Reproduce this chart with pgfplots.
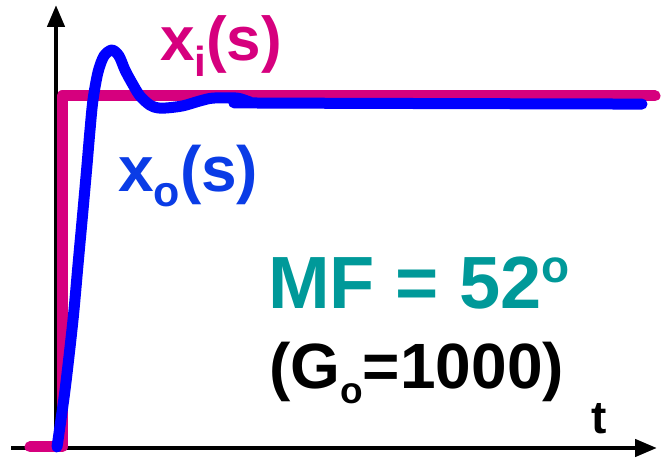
\documentclass[border=0pt]{standalone}
\usepackage{fontspec}
\setmainfont{Liberation Sans}
\usepackage{pgfplots}
\pgfplotsset{compat=1.18}
\usetikzlibrary{arrows.meta}

\definecolor{stepmag}{RGB}{214,0,126}
\definecolor{respblue}{RGB}{0,0,255}
\definecolor{labblue}{RGB}{10,60,230}
\definecolor{mfteal}{RGB}{0,153,153}

% step input x_i(t)
\pgfplotstableread{
t     y
-0.32 0
0.00  0
0.00  1
5.93  1
}\stepinput

% closed-loop response x_o(t)
\pgfplotstableread{
t     y
-0.05 0.000
0.03  0.162
0.11  0.362
0.16  0.519
0.21  0.675
0.25  0.803
0.28  0.903
0.31  0.989
0.36  1.068
0.42  1.114
0.50  1.131
0.57  1.114
0.63  1.074
0.70  1.037
0.78  1.000
0.88  0.974
0.96  0.966
1.05  0.966
1.21  0.972
1.38  0.986
1.51  0.994
1.75  0.994
1.88  0.983
1.98  0.980
5.80  0.977
}\response

\newcommand{\fs}[1]{\fontsize{#1}{#1}\selectfont}

\begin{document}
\begin{tikzpicture}[x=1pt,y=1pt]
\useasboundingbox (0,0) rectangle (664,461);

% coordinate axes with arrow heads
\draw[line width=4.5pt,-{Triangle[length=22pt,width=17pt]}] (11,13) -- (657,13);
\draw[line width=4.5pt,-{Triangle[length=22pt,width=17pt]}] (56,12) -- (56,456);

\begin{axis}[
  at={(0,0)}, anchor=south west,
  width=664pt, height=461pt, scale only axis,
  xmin=-0.62, xmax=6.02, ymin=-0.0399, ymax=1.2735,
  hide axis, clip=false,
]
\addplot[stepmag, line width=11pt, line cap=round, line join=round]
  table[x=t,y=y] {\stepinput};
\addplot[respblue, line width=11pt, line cap=round, line join=round, smooth, tension=0.5]
  table[x=t,y=y] {\response};
\end{axis}

% labels
\node[anchor=base west, inner sep=0pt, text=stepmag, font=\bfseries\fs{62}]
  at (160,400) {x\raisebox{-16pt}{\fs{42}i}(s)};
\node[anchor=base west, inner sep=0pt, text=labblue, font=\bfseries\fs{64}]
  at (118,269) {x\raisebox{-15pt}{\fs{43}o}(s)};
\node[anchor=base west, inner sep=0pt, text=mfteal, font=\bfseries\fs{74}]
  at (268,153) {MF = 52\raisebox{26pt}{\fs{46}o}};
\node[anchor=base west, inner sep=0pt, text=black, font=\bfseries\fs{64}]
  at (269,73) {(G\raisebox{-15pt}{\fs{37}o}=1000)};
\node[anchor=base west, inner sep=0pt, text=black, font=\bfseries\fs{46}]
  at (591,28) {t};
\end{tikzpicture}
\end{document}
